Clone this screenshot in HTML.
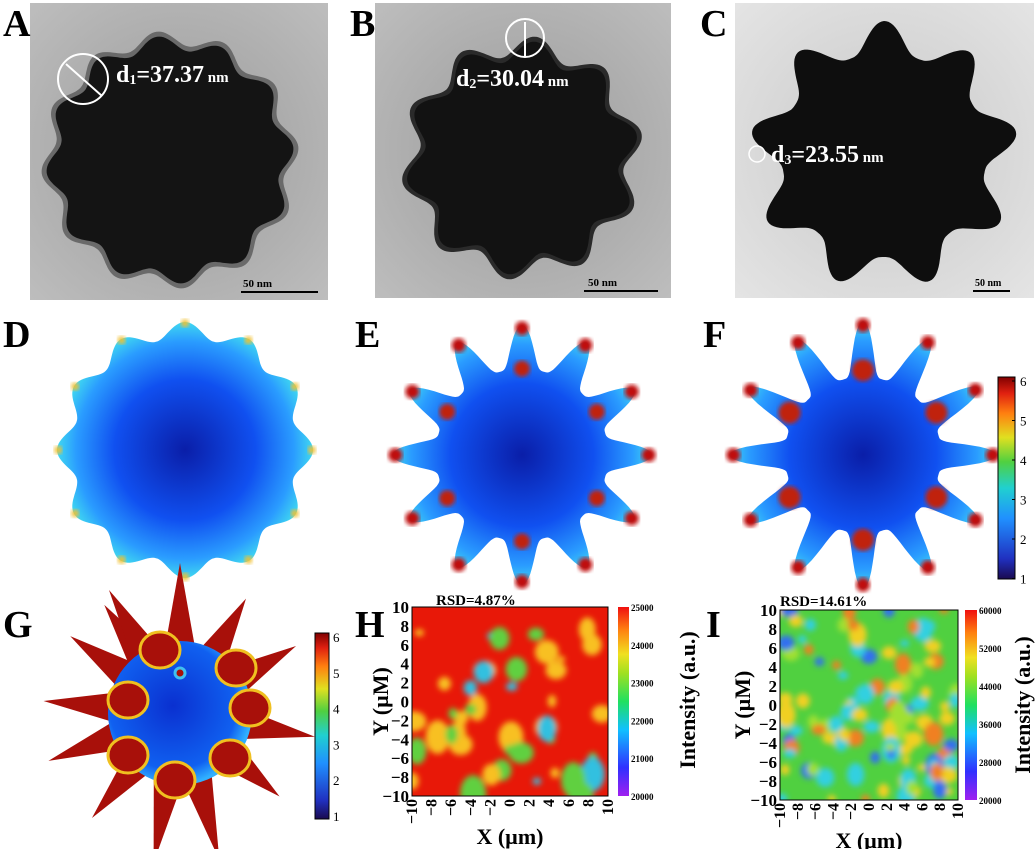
<!DOCTYPE html>
<html><head><meta charset="utf-8"><style>
html,body{margin:0;padding:0;background:#fff;}
svg{display:block;font-family:"Liberation Serif",serif;font-weight:bold;}
</style></head><body>
<svg id="s" width="1036" height="849" viewBox="0 0 1036 849" xmlns="http://www.w3.org/2000/svg">
<defs>
<radialGradient id="tem" cx="50%" cy="50%" r="70%"><stop offset="0" stop-color="#9a9a9a"/><stop offset="1" stop-color="#bdbdbd"/></radialGradient>
<radialGradient id="tem2" cx="50%" cy="50%" r="70%"><stop offset="0" stop-color="#c8c8c8"/><stop offset="1" stop-color="#e4e4e4"/></radialGradient>
<radialGradient id="blueg" cx="50%" cy="50%" r="50%"><stop offset="0" stop-color="#0a1ea8"/><stop offset="0.55" stop-color="#1050f0"/><stop offset="0.85" stop-color="#2a9cff"/><stop offset="1" stop-color="#40d8f0"/></radialGradient>
<radialGradient id="sph" cx="45%" cy="45%" r="55%"><stop offset="0" stop-color="#0a30d0"/><stop offset="0.8" stop-color="#1060f0"/><stop offset="1" stop-color="#30b0ff"/></radialGradient>
<linearGradient id="jet" x1="0" y1="1" x2="0" y2="0"><stop offset="0" stop-color="#1a0a50"/><stop offset="0.1" stop-color="#2030c0"/><stop offset="0.3" stop-color="#2090ff"/><stop offset="0.45" stop-color="#20d0d0"/><stop offset="0.58" stop-color="#50d040"/><stop offset="0.7" stop-color="#e0e020"/><stop offset="0.82" stop-color="#ff8010"/><stop offset="0.92" stop-color="#e02010"/><stop offset="1" stop-color="#800000"/></linearGradient>
<linearGradient id="rb" x1="0" y1="1" x2="0" y2="0"><stop offset="0" stop-color="#a020f0"/><stop offset="0.15" stop-color="#3030ff"/><stop offset="0.35" stop-color="#10c0ff"/><stop offset="0.5" stop-color="#20e060"/><stop offset="0.65" stop-color="#a0e020"/><stop offset="0.75" stop-color="#f0e020"/><stop offset="0.88" stop-color="#ff8010"/><stop offset="1" stop-color="#f01010"/></linearGradient>
<filter id="bl" x="-10%" y="-10%" width="120%" height="120%"><feGaussianBlur stdDeviation="3"/></filter>
<filter id="bl2"><feGaussianBlur stdDeviation="2"/></filter>
<clipPath id="cH"><rect x="412" y="607" width="196" height="189"/></clipPath>
<clipPath id="cI"><rect x="780" y="610" width="178" height="190"/></clipPath>
</defs>
<rect x="30" y="3" width="298" height="297" fill="url(#tem)"/>
<rect x="375" y="3" width="296" height="295" fill="url(#tem)"/>
<rect x="735" y="3" width="299" height="295" fill="url(#tem2)"/>
<g id="stars"></g>
<g id="sims"></g>
<g id="heat"></g>
<g id="txt" fill="#000"></g>
</svg>
<script>
var NS="http://www.w3.org/2000/svg";
function el(p,t,a,txt){var e=document.createElementNS(NS,t);for(var k in a)e.setAttribute(k,a[k]);if(txt!==undefined)e.textContent=txt;document.getElementById(p).appendChild(e);return e;}
function star(cx,cy,r,amp,n,rot,sharp){var d="";for(var i=0;i<=360;i++){var t=i*Math.PI/180;var c=Math.cos(n*(t+rot));var m=sharp?Math.pow((c+1)/2,sharp)*2-1:c;var rr=r+amp*m;d+=(i?"L":"M")+(cx+rr*Math.cos(t)).toFixed(1)+" "+(cy+rr*Math.sin(t)).toFixed(1);}return d+"Z";}
el("stars","path",{d:star(170,160,122,7,12,0.1),fill:"#6a6a6a"});
el("stars","path",{d:star(170,160,117,7,12,0.1),fill:"#141414"});
el("stars","path",{d:star(522,158,112,10,10,0.2),fill:"#2a2a2a"});
el("stars","path",{d:star(522,158,107,10,10,0.2),fill:"#121212"});
el("stars","path",{d:star(884,155,118,16,9,0.17,1.4),fill:"#0e0e0e"});
el("stars","circle",{cx:83,cy:79,r:25,fill:"none",stroke:"#fff","stroke-width":2});
el("stars","line",{x1:66,y1:64,x2:102,y2:96,stroke:"#fff","stroke-width":2});
el("stars","circle",{cx:525,cy:38,r:19,fill:"none",stroke:"#fff","stroke-width":2});
el("stars","line",{x1:525,y1:22,x2:525,y2:56,stroke:"#fff","stroke-width":2});
el("stars","circle",{cx:757,cy:154,r:8,fill:"none",stroke:"#fff","stroke-width":1.5});
el("stars","line",{x1:241,y1:292,x2:318,y2:292,stroke:"#000","stroke-width":2});
el("stars","line",{x1:584,y1:291,x2:658,y2:291,stroke:"#000","stroke-width":2});
el("stars","line",{x1:973,y1:291,x2:1010,y2:291,stroke:"#000","stroke-width":2});
function sim(cx,cy,r,amp,n,rot,sharp,hot){
 el("sims","path",{d:star(cx,cy,r,amp,n,rot,sharp),fill:"url(#blueg)"});
 for(var i=0;i<n;i++){var t=2*Math.PI*i/n-rot;var R=r+amp*0.85;
  el("sims","circle",{cx:cx+R*Math.cos(t),cy:cy+R*Math.sin(t),r:hot?7:4,fill:hot?"#c01010":"#f0c030",filter:"url(#bl2)"});}
 if(hot){for(var i=0;i<6;i++){var t=2*Math.PI*i/6+Math.PI/6;el("sims","circle",{cx:cx+r*0.8*Math.cos(t),cy:cy+r*0.8*Math.sin(t),r:hot>1?11:8,fill:"#c02010",filter:"url(#bl2)"});}}
}
sim(185,450,120,8,12,0.0,0,0);
sim(522,455,108,22,12,0.0,1.6,1);
sim(863,455,106,28,12,0.0,2,2);
el("sims","rect",{x:998,y:377,width:17,height:202,fill:"url(#jet)",stroke:"#000","stroke-width":1});
["6","5","4","3","2","1"].forEach(function(s,i){var y=381+i*39.5;el("txt","text",{x:1020,y:y+5,"font-size":13,"font-weight":"normal"},s);el("sims","line",{x1:1012,y1:y,x2:1015,y2:y,stroke:"#000"});});
var spikes=[[-90,78],[-60,60],[-30,62],[10,65],[40,58],[75,80],[100,80],[130,65],[160,68],[185,65],[215,62],[235,60],[-120,70]];
spikes.forEach(function(s){var a=s[0]*Math.PI/180,L=s[1];var cx=180,cy=713;var bx=cx+60*Math.cos(a),by=cy+60*Math.sin(a);var tx=cx+(72+L)*Math.cos(a),ty=cy+(72+L)*Math.sin(a);var px=-Math.sin(a)*16,py=Math.cos(a)*16;
 el("sims","path",{d:"M"+(bx+px)+" "+(by+py)+"L"+tx+" "+ty+"L"+(bx-px)+" "+(by-py)+"Z",fill:"#a8100a"});});
el("sims","circle",{cx:180,cy:713,r:72,fill:"url(#sph)"});
[[160,650],[236,668],[128,700],[250,708],[128,755],[230,758],[175,780]].forEach(function(p){el("sims","ellipse",{cx:p[0],cy:p[1],rx:20,ry:18,fill:"#a8100a",stroke:"#f0c020","stroke-width":3});});
el("sims","circle",{cx:180,cy:673,r:5,fill:"#a8100a",stroke:"#40c0f0","stroke-width":3});
el("sims","rect",{x:315,y:633,width:14,height:186,fill:"url(#jet)",stroke:"#000","stroke-width":1});
["6","5","4","3","2","1"].forEach(function(s,i){var y=637+i*35.8;el("txt","text",{x:333,y:y+5,"font-size":13,"font-weight":"normal"},s);});
var seed=7;function rnd(){seed=(seed*16807)%2147483647;return seed/2147483647;}
el("heat","rect",{x:412,y:607,width:196,height:189,fill:"#e81808"});
var gH=el("heat","g",{"clip-path":"url(#cH)"});gH.setAttribute("filter","url(#bl)");
for(var i=0;i<45;i++){var x=412+rnd()*196,y=607+rnd()*189,r=4+rnd()*9;var c=rnd();
 var e=document.createElementNS(NS,"ellipse");e.setAttribute("cx",x);e.setAttribute("cy",y);e.setAttribute("rx",r);e.setAttribute("ry",r*(0.7+rnd()*0.8));e.setAttribute("fill",c<0.45?"#f8c020":(c<0.85?"#60d040":"#30c0e0"));gH.appendChild(e);}
el("heat","rect",{x:412,y:607,width:196,height:189,fill:"none",stroke:"#000","stroke-width":1});
el("heat","rect",{x:780,y:610,width:178,height:190,fill:"#50d040"});
var gI=el("heat","g",{"clip-path":"url(#cI)"});gI.setAttribute("filter","url(#bl)");
for(var i=0;i<110;i++){var x=780+rnd()*178,y=610+rnd()*190,r=4+rnd()*6;var c=rnd();
 var e=document.createElementNS(NS,"ellipse");e.setAttribute("cx",x);e.setAttribute("cy",y);e.setAttribute("rx",r);e.setAttribute("ry",r*(0.7+rnd()*0.7));e.setAttribute("fill",c<0.3?"#f0d020":(c<0.45?"#f08020":(c<0.75?"#30d0e0":(c<0.88?"#3070f0":"#a0e030"))));gI.appendChild(e);}
el("heat","rect",{x:780,y:610,width:178,height:190,fill:"none",stroke:"#000","stroke-width":1});
el("heat","rect",{x:618,y:607,width:11,height:189,fill:"url(#rb)"});
el("heat","rect",{x:965,y:610,width:12,height:190,fill:"url(#rb)"});
["25000","24000","23000","22000","21000","20000"].forEach(function(s,i){el("txt","text",{x:631,y:611+i*37.8,"font-size":9},s);});
["60000","52000","44000","36000","28000","20000"].forEach(function(s,i){el("txt","text",{x:979,y:614+i*38,"font-size":9},s);});
function axes(x0,y0,w,h,ylx){var v=[10,8,6,4,2,0,-2,-4,-6,-8,-10];
 v.forEach(function(n,i){var y=y0+i*h/10;el("txt","text",{x:x0-3,y:y+6,"font-size":17,"text-anchor":"end"},n<0?"\u2212"+(-n):""+n);
  var x=x0+i*w/10;el("txt","text",{x:0,y:0,"font-size":16,"text-anchor":"end",transform:"translate("+(x+5)+","+(y0+h+3)+") rotate(-90)"},v[10-i]<0?"\u2212"+(-v[10-i]):""+v[10-i]);});
 el("txt","text",{x:x0+w/2,y:y0+h+48,"font-size":22,"text-anchor":"middle"},"X (\u00b5m)");
 el("txt","text",{"font-size":22,"text-anchor":"middle",transform:"translate("+ylx+","+(y0+h/2)+") rotate(-90)"},"Y (\u00b5M)");}
axes(412,607,196,189,388);axes(780,610,178,190,750);
el("txt","text",{"font-size":22,"text-anchor":"middle",transform:"translate(695,700) rotate(-90)"},"Intensity (a.u.)");
el("txt","text",{"font-size":22,"text-anchor":"middle",transform:"translate(1030,705) rotate(-90)"},"Intensity (a.u.)");
el("txt","text",{x:436,y:605,"font-size":15},"RSD=4.87%");
el("txt","text",{x:780,y:606,"font-size":15},"RSD=14.61%");
[["A",3,36],["B",350,36],["C",700,36],["D",3,347],["E",355,347],["F",703,347],["G",3,637],["H",355,637],["I",706,637]].forEach(function(a){el("txt","text",{x:a[1],y:a[2],"font-size":38},a[0]);});
function lab(x,y,d,v){var t=el("txt","text",{x:x,y:y,"font-size":24,fill:"#fff"});t.innerHTML='d<tspan font-size="14" dy="2">'+d+'</tspan><tspan dy="-2">='+v+'</tspan><tspan font-size="15"> nm</tspan>';}
lab(116,82,"1","37.37");lab(456,86,"2","30.04");lab(771,162,"3","23.55");
el("txt","text",{x:243,y:287,"font-size":11},"50 nm");el("txt","text",{x:588,y:286,"font-size":11},"50 nm");el("txt","text",{x:975,y:286,"font-size":10},"50 nm");
</script>
</body></html>
